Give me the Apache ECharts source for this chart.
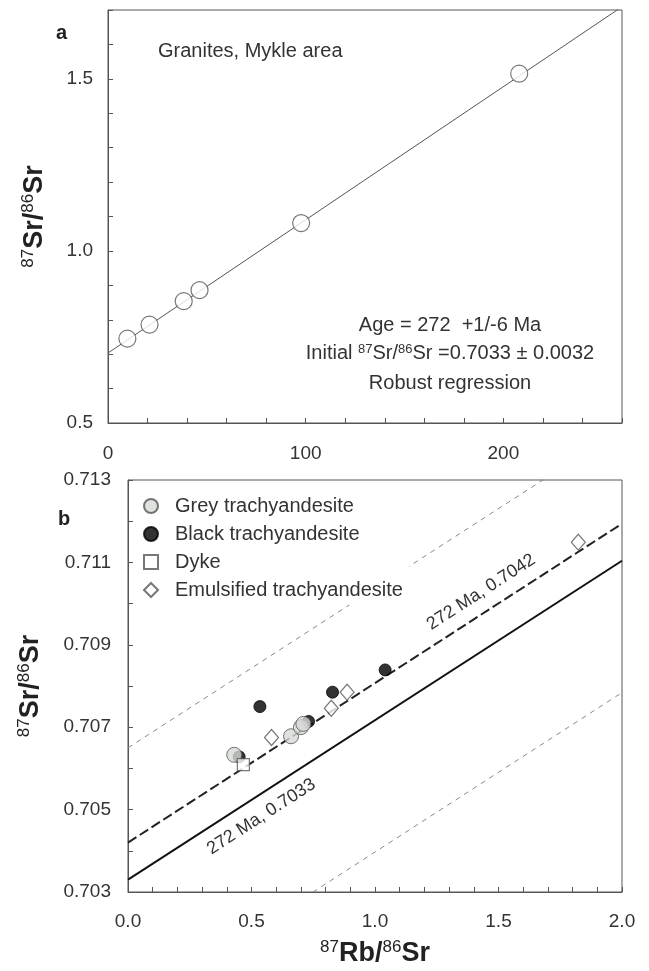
<!DOCTYPE html>
<html>
<head>
<meta charset="utf-8">
<script src="https://cdn.jsdelivr.net/npm/echarts@6/dist/echarts.min.js"></script>
<style>
  html, body { margin: 0; padding: 0; background: #fff; }
  #chart { width: 649px; height: 971px; }
</style>
</head>
<body>
<div id="chart"></div>
<script>
// panel a - granites, Mykle area
var graniteRb = [9.8, 21.0, 38.3, 46.3, 97.7, 208.0];
var graniteSr = [0.745, 0.786, 0.854, 0.886, 1.081, 1.515];
var isoA_x = [0, 260];
var isoA_y = [0.7033, 1.7095];

// panel b - trachyandesites
var greyRb = [0.43, 0.66, 0.70, 0.71];
var greySr = [0.70633, 0.70678, 0.70700, 0.70708];
var blackRb = [0.45, 0.534, 0.731, 0.828, 1.041];
var blackSr = [0.70628, 0.70750, 0.70714, 0.70785, 0.70839];
var dykeRb = [0.467];
var dykeSr = [0.70609];
var emulRb = [0.581, 0.823, 0.887, 1.823];
var emulSr = [0.70675, 0.70746, 0.70785, 0.71149];

// reference isochrons (x = 0 and x = 2)
var isoX = [0, 2];
var iso7033 = [0.7033, 0.71104];
var iso7042 = [0.7042, 0.71194];
var envUpper = [0.7065, 0.71424];
var envLower = [0.7001, 0.70784];

var legendNames = ['Grey trachyandesite', 'Black trachyandesite', 'Dyke', 'Emulsified trachyandesite'];

function pairs(xs, ys) {
    return xs.map(function(x, i) { return [x, ys[i]]; });
}

var FONT = 'Liberation Sans';
var TXT = '#333';

var supRich = {
    sup: { fontSize: 17, fontFamily: FONT, color: '#222', verticalAlign: 'top', lineHeight: 15 },
    big: { fontSize: 27, fontFamily: FONT, fontWeight: 'bold', color: '#222', lineHeight: 30 }
};

var chart = echarts.init(document.getElementById('chart'));

var option = {
    animation: false,
    backgroundColor: '#fff',
    grid: [
        { left: 108, top: 10, width: 514, height: 413, show: true, borderColor: '#555', borderWidth: 1 },
        { left: 128, top: 480, width: 494, height: 412, show: true, borderColor: '#555', borderWidth: 1 }
    ],
    xAxis: [
        {
            gridIndex: 0, type: 'value', min: 0, max: 260, interval: 20,
            axisLine: { lineStyle: { color: '#555' } },
            axisTick: { inside: true, length: 5, lineStyle: { color: '#555' } },
            splitLine: { show: false },
            axisLabel: {
                margin: 21, fontSize: 19, fontFamily: FONT, color: TXT,
                formatter: function(v) { return (v % 100 === 0 && v <= 200) ? String(v) : ''; }
            }
        },
        {
            gridIndex: 1, type: 'value', min: 0, max: 2, interval: 0.1,
            axisLine: { lineStyle: { color: '#555' } },
            axisTick: { inside: true, length: 5, lineStyle: { color: '#555' } },
            splitLine: { show: false },
            axisLabel: {
                margin: 20, fontSize: 19, fontFamily: FONT, color: TXT,
                formatter: function(v) {
                    var k = Math.round(v * 10);
                    return k % 5 === 0 ? (k / 10).toFixed(1) : '';
                }
            },
            name: '{sup|87}{big|Rb/}{sup|86}{big|Sr}',
            nameLocation: 'middle', nameGap: 47,
            nameTextStyle: { rich: supRich }
        }
    ],
    yAxis: [
        {
            gridIndex: 0, type: 'value', min: 0.5, max: 1.7, interval: 0.1,
            axisLine: { lineStyle: { color: '#555' } },
            axisTick: { inside: true, length: 5, lineStyle: { color: '#555' } },
            splitLine: { show: false },
            axisLabel: {
                margin: 15, fontSize: 19, fontFamily: FONT, color: TXT,
                formatter: function(v) {
                    var k = Math.round(v * 10);
                    return k % 5 === 0 ? (k / 10).toFixed(1) : '';
                }
            },
            name: '{sup|87}{big|Sr/}{sup|86}{big|Sr}',
            nameLocation: 'middle', nameGap: 58, nameRotate: 90,
            nameTextStyle: { rich: supRich }
        },
        {
            gridIndex: 1, type: 'value', min: 0.703, max: 0.713, interval: 0.001,
            axisLine: { lineStyle: { color: '#555' } },
            axisTick: { inside: true, length: 5, lineStyle: { color: '#555' } },
            splitLine: { show: false },
            axisLabel: {
                margin: 17, fontSize: 19, fontFamily: FONT, color: TXT,
                formatter: function(v) {
                    var k = Math.round(v * 1000);
                    return k % 2 === 1 ? (k / 1000).toFixed(3) : '';
                }
            },
            name: '{sup|87}{big|Sr/}{sup|86}{big|Sr}',
            nameLocation: 'middle', nameGap: 82, nameRotate: 90,
            nameTextStyle: { rich: supRich }
        }
    ],
    legend: {
        orient: 'vertical',
        left: 143, top: 493,
        data: legendNames,
        itemWidth: 14, itemHeight: 14, itemGap: 6,
        padding: [2, 6, 4, 0],
        backgroundColor: '#fff',
        textStyle: { fontSize: 20, fontFamily: FONT, color: TXT, lineHeight: 22, padding: [0, 0, 0, 12] }
    },
    graphic: [
        { type: 'text', left: 56, top: 23, style: { text: 'a', font: 'bold 20px "Liberation Sans"', fill: '#222' } },
        { type: 'text', left: 58, top: 509, style: { text: 'b', font: 'bold 20px "Liberation Sans"', fill: '#222' } },
        { type: 'text', left: 158, top: 41, style: { text: 'Granites, Mykle area', font: '20px "Liberation Sans"', fill: TXT } },
        { type: 'text', x: 450, y: 325, style: { text: 'Age = 272  +1/-6 Ma', font: '20px "Liberation Sans"', fill: TXT, align: 'center', verticalAlign: 'middle' } },
        {
            type: 'text', x: 450, y: 353,
            style: {
                text: 'Initial {s|87}Sr/{s|86}Sr =0.7033 ± 0.0032',
                font: '20px "Liberation Sans"', fill: TXT, align: 'center', verticalAlign: 'middle',
                rich: { s: { fontSize: 13, fontFamily: FONT, fill: TXT, verticalAlign: 'top', lineHeight: 12 } }
            }
        },
        { type: 'text', x: 450, y: 383, style: { text: 'Robust regression', font: '20px "Liberation Sans"', fill: TXT, align: 'center', verticalAlign: 'middle' } }
    ],
    series: [
        {
            type: 'line', xAxisIndex: 0, yAxisIndex: 0, data: pairs(isoA_x, isoA_y),
            showSymbol: false, silent: true, lineStyle: { color: '#555', width: 1 }, z: 2
        },
        {
            type: 'scatter', xAxisIndex: 0, yAxisIndex: 0, data: pairs(graniteRb, graniteSr),
            symbol: 'circle', symbolSize: 17,
            itemStyle: { color: '#fff', borderColor: '#555', borderWidth: 1.2 }, z: 3
        },
        {
            type: 'line', xAxisIndex: 1, yAxisIndex: 1, data: pairs(isoX, envUpper),
            showSymbol: false, silent: true, lineStyle: { color: '#888', width: 1, type: [5, 5] }, z: 2
        },
        {
            type: 'line', xAxisIndex: 1, yAxisIndex: 1, data: pairs(isoX, envLower),
            showSymbol: false, silent: true, lineStyle: { color: '#888', width: 1, type: [5, 5] }, z: 2
        },
        {
            type: 'line', xAxisIndex: 1, yAxisIndex: 1, data: pairs(isoX, iso7042),
            showSymbol: false, silent: true, lineStyle: { color: '#222', width: 2, type: [10, 4] }, z: 2
        },
        {
            type: 'line', xAxisIndex: 1, yAxisIndex: 1, data: pairs(isoX, iso7033),
            showSymbol: false, silent: true, lineStyle: { color: '#111', width: 2 }, z: 2
        },
        {
            name: 'Black trachyandesite', type: 'scatter', xAxisIndex: 1, yAxisIndex: 1,
            data: pairs(blackRb, blackSr), symbol: 'circle', symbolSize: 12,
            itemStyle: { color: '#000', borderColor: '#000', borderWidth: 1 }, z: 3
        },
        {
            name: 'Grey trachyandesite', type: 'scatter', xAxisIndex: 1, yAxisIndex: 1,
            data: pairs(greyRb, greySr), symbol: 'circle', symbolSize: 15,
            itemStyle: { color: '#d6dad6', borderColor: '#555', borderWidth: 1 }, z: 4
        },
        {
            name: 'Dyke', type: 'scatter', xAxisIndex: 1, yAxisIndex: 1,
            data: pairs(dykeRb, dykeSr), symbol: 'rect', symbolSize: 12,
            itemStyle: { color: '#fff', borderColor: '#555', borderWidth: 1.2 }, z: 5
        },
        {
            name: 'Emulsified trachyandesite', type: 'scatter', xAxisIndex: 1, yAxisIndex: 1,
            data: pairs(emulRb, emulSr), symbol: 'diamond', symbolSize: [14, 16],
            itemStyle: { color: '#fff', borderColor: '#555', borderWidth: 1.2 }, z: 5
        }
    ]
};

chart.setOption(option);

// isochron labels, placed along the lines
function lineLabel(text, xVal, yVal, ys) {
    var p = chart.convertToPixel({ gridIndex: 1 }, [xVal, yVal]);
    var a = chart.convertToPixel({ gridIndex: 1 }, [isoX[0], ys[0]]);
    var b = chart.convertToPixel({ gridIndex: 1 }, [isoX[1], ys[1]]);
    var ang = Math.atan2(a[1] - b[1], b[0] - a[0]);
    return {
        type: 'text', x: p[0], y: p[1], rotation: ang,
        style: { text: text, font: '18px "Liberation Sans"', fill: TXT, align: 'center', verticalAlign: 'middle' }
    };
}

var g = option.graphic.slice();
g.push(lineLabel('272 Ma, 0.7042', 1.43, 0.71028, iso7042));
g.push(lineLabel('272 Ma, 0.7033', 0.54, 0.70483, iso7033));
chart.setOption({ graphic: g });
</script>
</body>
</html>
